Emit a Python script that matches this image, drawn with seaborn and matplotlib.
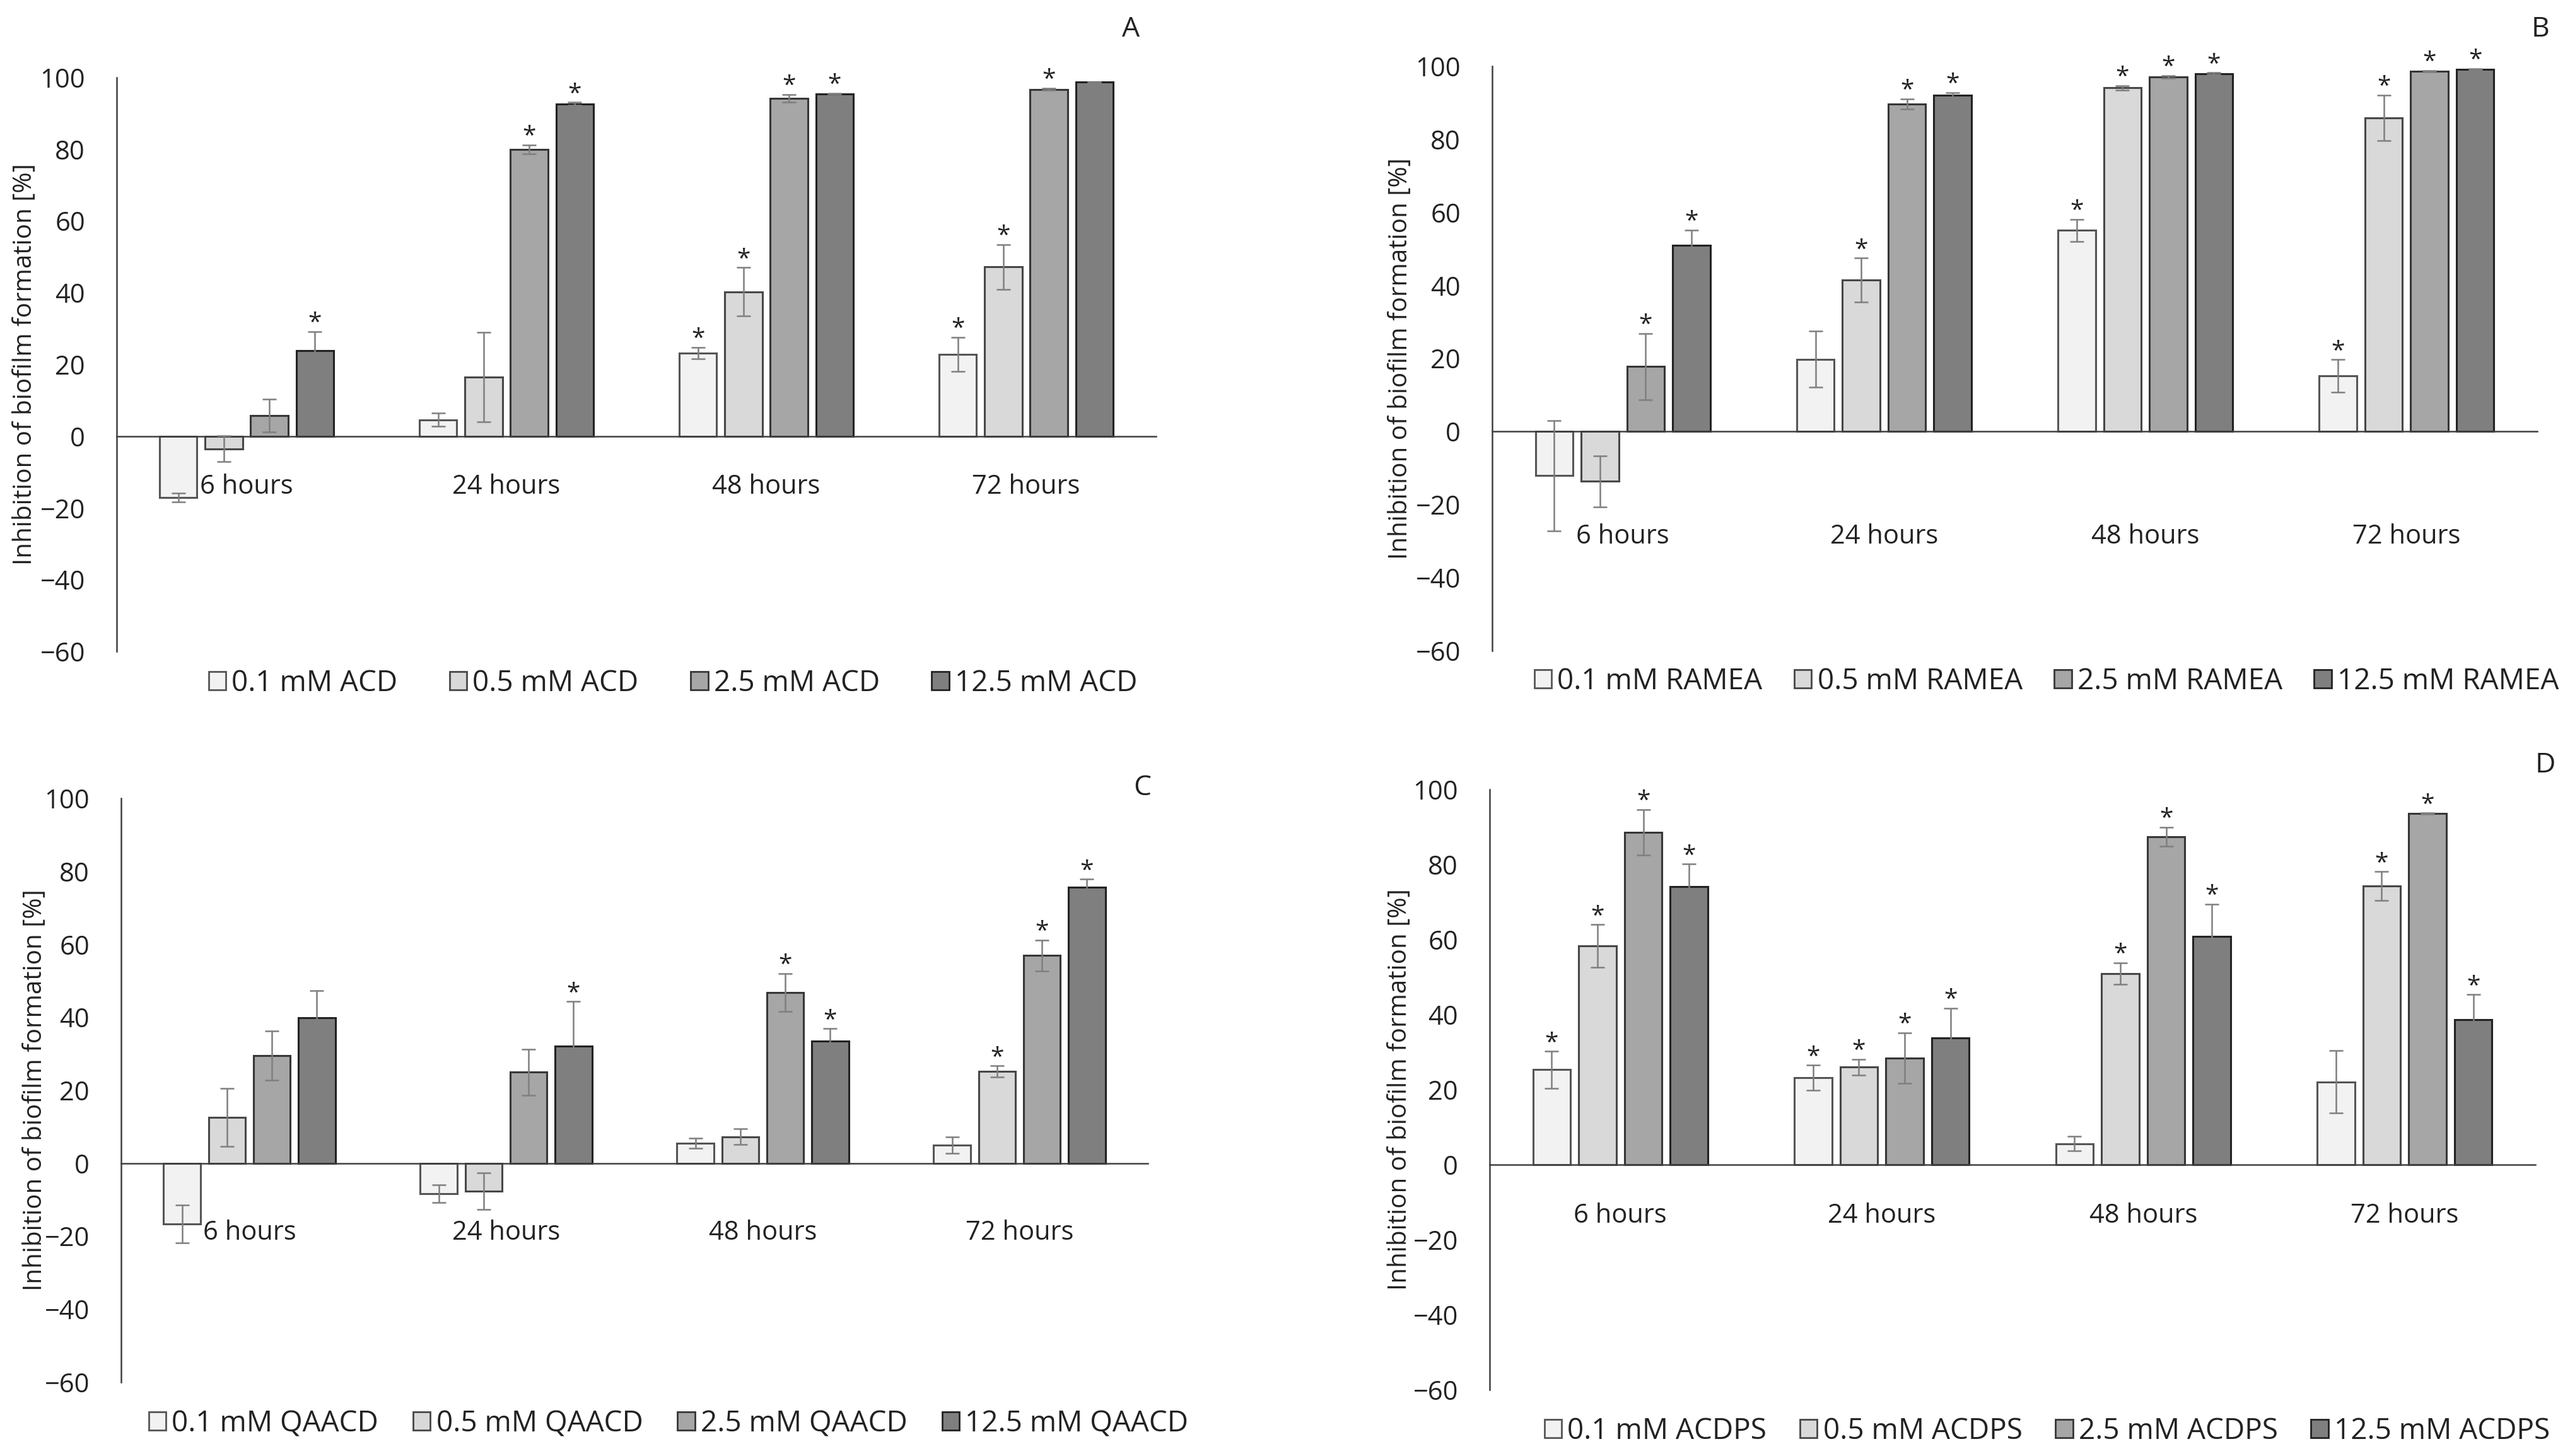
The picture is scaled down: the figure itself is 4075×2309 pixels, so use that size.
import pandas as pd
import matplotlib
matplotlib.use("Agg")
import matplotlib.pyplot as plt
from matplotlib.patches import Patch
import seaborn as sns

# ---------------- data ----------------
TIMES = ["6 hours", "24 hours", "48 hours", "72 hours"]
DOSES = ["0.1 mM", "0.5 mM", "2.5 mM", "12.5 mM"]

# rows = dose (0.1, 0.5, 2.5, 12.5 mM), cols = time (6, 24, 48, 72 h)
acd_mean = [[-17.1, 4.6, 23.2, 22.8],
            [-3.5, 16.5, 40.3, 47.2],
            [5.7, 80.0, 94.2, 96.7],
            [23.8, 92.7, 95.5, 98.7]]
acd_sd = [[1.3, 1.9, 1.6, 4.8],
          [3.6, 12.5, 6.7, 6.2],
          [4.6, 1.2, 1.1, 0.3],
          [5.4, 0.4, 0.1, 0.1]]
acd_sig = [[0, 0, 1, 1],
           [0, 0, 1, 1],
           [0, 1, 1, 1],
           [1, 1, 1, 0]]

ramea_mean = [[-12.1, 19.8, 55.1, 15.2],
              [-13.6, 41.5, 94.1, 85.9],
              [17.8, 89.7, 97.1, 98.6],
              [50.9, 92.1, 98.0, 99.1]]
ramea_sd = [[15.1, 7.7, 3.0, 4.5],
            [7.0, 6.0, 0.6, 6.2],
            [9.1, 1.4, 0.3, 0.2],
            [4.3, 0.7, 0.2, 0.2]]
ramea_sig = [[0, 0, 1, 1],
             [0, 1, 1, 1],
             [1, 1, 1, 1],
             [1, 1, 1, 1]]

qaacd_mean = [[-16.7, -8.4, 5.5, 5.0],
              [12.6, -7.6, 7.3, 25.2],
              [29.5, 25.0, 46.8, 56.9],
              [39.9, 32.1, 33.4, 75.6]]
qaacd_sd = [[5.2, 2.4, 1.4, 2.3],
            [8.0, 5.0, 2.2, 1.5],
            [6.8, 6.3, 5.2, 4.2],
            [7.4, 12.2, 3.5, 2.2]]
qaacd_sig = [[0, 0, 0, 0],
             [0, 0, 0, 1],
             [0, 0, 1, 1],
             [0, 1, 1, 1]]

acdps_mean = [[25.3, 23.2, 5.6, 22.1],
              [58.3, 26.0, 50.9, 74.3],
              [88.6, 28.4, 87.4, 93.6],
              [74.2, 33.8, 60.9, 38.6]]
acdps_sd = [[4.9, 3.3, 1.9, 8.4],
            [5.7, 2.1, 2.9, 3.8],
            [6.1, 6.8, 2.5, 0.1],
            [5.9, 7.9, 8.5, 6.7]]
acdps_sig = [[1, 1, 0, 0],
             [1, 1, 1, 1],
             [1, 1, 1, 1],
             [1, 1, 1, 1]]

# ---------------- style ----------------
W, H, DPI = 4075, 2309, 100
FILLS = ["#f2f2f2", "#d9d9d9", "#a6a6a6", "#7f7f7f"]
EDGES = ["#555555", "#474747", "#363636", "#222222"]
ERR_COLOR = "#7f7f7f"
FONT = ["Open Sans", "DejaVu Sans"]
YLABEL = "Inhibition of biofilm formation [%]"
TXT = "#222222"

# letter, compound, data, axes box in px (left, right, top, bottom), x-label pad (pt),
# y-label right edge (px), legend centre (px), legend column spacing, letter position (px)
PANELS = [
    ("A", "ACD", acd_mean, acd_sd, acd_sig, (185, 1833, 123, 1033), 43, 60, (1067, 1084), 1.8, (1793, 47)),
    ("B", "RAMEA", ramea_mean, ramea_sd, ramea_sig, (2366, 4023, 105, 1032), 105, 2241, (3245, 1081), 1.1, (4028, 47)),
    ("C", "QAACD", qaacd_mean, qaacd_sd, qaacd_sig, (192, 1820, 1266, 2192), 64, 76, (1060, 2258), 1.2, (1811, 1250)),
    ("D", "ACDPS", acdps_mean, acdps_sd, acdps_sig, (2362, 4020, 1252, 2204), 43, 2240, (3246, 2270), 1.15, (4036, 1214)),
]

sns.set_theme(style="white")
plt.rcParams["font.family"] = FONT

fig = plt.figure(figsize=(W / DPI, H / DPI), dpi=DPI)

for letter, comp, mean, sd, sig, box, xpad, ylab_x, leg_c, colsp, let_xy in PANELS:
    l, r, t, b = box
    ax = fig.add_axes([l / W, 1 - b / H, (r - l) / W, (b - t) / H])
    df = pd.DataFrame([{"time": TIMES[j], "dose": DOSES[i], "value": mean[i][j]}
                       for i in range(len(DOSES)) for j in range(len(TIMES))])
    sns.barplot(data=df, x="time", y="value", hue="dose", order=TIMES, hue_order=DOSES,
                palette=FILLS, saturation=1, width=0.7, gap=0.18, errorbar=None,
                linewidth=2.2, edgecolor="#333333", legend=False, ax=ax)
    bar_conts = list(ax.containers)
    for i, cont in enumerate(bar_conts):
        for j, bar in enumerate(cont):
            bar.set_edgecolor(EDGES[i])
            xc = bar.get_x() + bar.get_width() / 2
            ax.errorbar(xc, mean[i][j], yerr=sd[i][j], color=ERR_COLOR, lw=1.8,
                        capsize=8, capthick=1.8, zorder=4)
            if sig[i][j]:
                top = max(mean[i][j], 0) + sd[i][j]
                ax.annotate("*", (xc, top), xytext=(0, 2), textcoords="offset points",
                            ha="center", va="baseline", fontsize=28, color=TXT)

    ax.set_xlim(-0.5, 3.5)
    ax.set_ylim(-60, 100)
    ax.set_yticks(range(-60, 101, 20))
    for s in ("top", "right"):
        ax.spines[s].set_visible(False)
    ax.spines["bottom"].set_position(("data", 0))
    for s in ("bottom", "left"):
        ax.spines[s].set_color("#404040")
        ax.spines[s].set_linewidth(1.8)
    ax.tick_params(axis="y", length=0, pad=36, labelsize=30, labelcolor=TXT)
    ax.tick_params(axis="x", length=0, pad=xpad, labelsize=30, labelcolor=TXT)
    ax.set_xlabel("")
    ax.set_ylabel(YLABEL, fontsize=29, color=TXT)
    ax.yaxis.set_label_coords((ylab_x - l) / (r - l), 0.5)

    handles = [Patch(facecolor=FILLS[i], edgecolor=EDGES[i], linewidth=2,
                     label=f"{DOSES[i]} {comp}") for i in range(len(DOSES))]
    fig.legend(handles=handles, loc="center", bbox_to_anchor=(leg_c[0] / W, 1 - leg_c[1] / H),
               ncol=4, frameon=False, fontsize=33, handlelength=0.6, handleheight=0.6,
               handletextpad=0.2, columnspacing=colsp, labelcolor=TXT, borderpad=0,
               borderaxespad=0)
    fig.text(let_xy[0] / W, 1 - let_xy[1] / H, letter, fontsize=32, ha="center", va="center",
             color=TXT)

fig.savefig("out.png", dpi=DPI)
